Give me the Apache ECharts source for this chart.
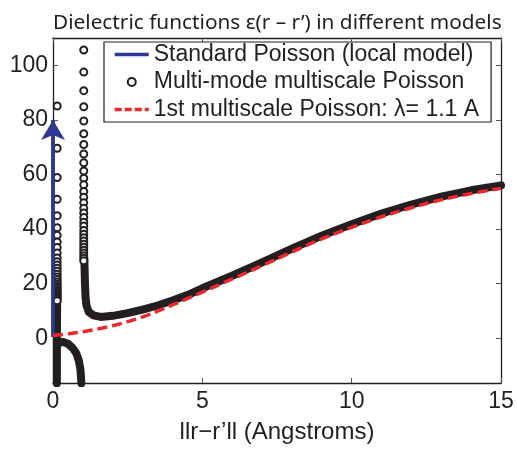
<!DOCTYPE html>
<html><head><meta charset="utf-8">
<script src="https://cdn.jsdelivr.net/npm/echarts@6/dist/echarts.min.js"></script>
<style>html,body{margin:0;padding:0;background:#fff;}#c{width:517px;height:449px;}</style>
</head><body><div id="c"></div>
<script>
// ---- data ----
var titleText = 'Dielectric functions \u03b5(r \u2013 r\u2019) in different models';
var xName = 'llr\u2212r\u2019ll (Angstroms)';
var names = ['Standard Poisson (local model)', 'Multi-mode multiscale Poisson', '1st multiscale Poisson: \u03bb= 1.1 A'];
var xTicks = [0, 5, 10, 15];
var yTicks = [0, 20, 40, 60, 80, 100];
// standard Poisson: vertical arrow at r = 0
var standardPts = [[0, 0.5], [0, 80]];
// multi-mode: individually visible circles (steep parts)
var circleLeftY = [85.1, 69.6, 58.9, 50.9, 44.9, 40.5, 37.7, 35.3, 33.2, 31.2, 29.4, 28.0, 26.8, 25.6, 24.5, 23.4, 22.4, 21.5, 20.6, 19.8, 19.0, 18.2, 17.5, 16.8, 16.1, 15.5, 14.9, 14.3, 13.7];
var circleLeftX = 0.14;
var circleRightY = [105.6, 97.5, 90.7, 84.8, 79.6, 74.9, 71.0, 67.5, 64.3, 61.3, 58.6, 56.2, 53.8, 51.7, 49.6, 47.6, 45.9, 44.2, 42.5, 41.1, 39.5, 38.1, 36.8, 35.6, 34.4, 33.3, 32.2, 31.2, 30.2, 29.3, 28.4];
var circleRightX = 1.03;
// multi-mode: densely sampled parts (circles merge into a thick band)
var denseLeft = [[0.13, -16.5], [0.13, -6], [0.13, 0.5], [0.135, 8], [0.14, 13.5]];
var denseArch = [[0.14, -2.5], [0.2, -1.5], [0.35, -1.4], [0.5, -2.0], [0.65, -3.5], [0.78, -5.5], [0.86, -8], [0.92, -11.5], [0.95, -16.5]];
var denseRight = [[1.05, 29], [1.07, 20], [1.09, 15], [1.12, 12], [1.2, 9.6], [1.35, 8.4], [1.6, 7.8], [2.0, 8.2], [2.5, 9.2], [3.0, 10.5], [3.5, 12.0], [4.0, 13.8], [4.5, 15.8], [5.0, 18.3], [6.0, 22.9], [7.0, 27.8], [8.0, 32.8], [9.0, 37.6], [10.0, 41.8], [11.0, 45.7], [12.0, 49.0], [13.0, 51.9], [14.0, 54.2], [15.0, 56.0]];
// 1st multiscale Poisson
var firstMs = [[0, 1.0], [0.5, 1.6], [1.0, 2.4], [1.5, 3.4], [2.0, 4.6], [2.5, 6.1], [3.0, 7.8], [3.5, 9.9], [4.0, 12.2], [4.5, 14.5], [5.0, 16.9], [6.0, 21.7], [7.0, 26.6], [8.0, 31.6], [9.0, 36.4], [10.0, 40.6], [11.0, 44.5], [12.0, 47.8], [13.0, 50.7], [14.0, 53.0], [15.0, 54.9]];

// ---- build ----
var circles = circleLeftY.map(function (v) { return [circleLeftX, v]; })
  .concat(['-'])
  .concat(circleRightY.map(function (v) { return [circleRightX, v]; }));

var FONT = 'Liberation Sans, Arial, Helvetica, sans-serif';
var BLACK = '#231f20';
var BLUE = '#2b3894';
var RED = '#f0262b';

var chart = echarts.init(document.getElementById('c'), null, {renderer: 'canvas'});
var axisCommonX = {
  type: 'value', min: 0, max: 15,
  axisLine: {show: true, onZero: false, lineStyle: {color: BLACK, width: 1.3}},
  axisTick: {show: true, inside: true, length: 5, lineStyle: {color: '#555', width: 1}, customValues: xTicks},
  splitLine: {show: false}
};
var axisCommonY = {
  type: 'value', min: -16.4, max: 110,
  axisLine: {show: true, onZero: false, lineStyle: {color: BLACK, width: 1.3}},
  axisTick: {show: true, inside: true, length: 5, lineStyle: {color: '#555', width: 1}, customValues: yTicks},
  splitLine: {show: false}
};
var thick = {color: BLACK, width: 8, cap: 'round', join: 'round'};
chart.setOption({
  animation: false,
  backgroundColor: '#fff',
  title: {
    text: titleText, left: 48, top: 8,
    textStyle: {fontFamily: 'Noto Sans', fontWeight: 'normal', fontSize: 20.8, color: BLACK}
  },
  grid: {left: 53, right: 16, top: 38, bottom: 57, containLabel: false},
  legend: {
    orient: 'vertical', left: 104, top: 42,
    padding: [1, 12, 1, 9], itemGap: 4.5, itemWidth: 34, itemHeight: 10,
    borderColor: BLACK, borderWidth: 1.2, backgroundColor: '#fff',
    data: [
      {name: names[0], itemStyle: {opacity: 0}, lineStyle: {width: 3.5, color: BLUE}},
      {name: names[1], lineStyle: {opacity: 0}},
      {name: names[2], itemStyle: {opacity: 0}, lineStyle: {width: 3.5, color: RED, type: [7, 3]}}
    ],
    textStyle: {fontFamily: FONT, fontSize: 23, color: BLACK}
  },
  xAxis: [
    Object.assign({}, axisCommonX, {
      position: 'bottom', name: xName, nameLocation: 'middle', nameGap: 37,
      nameTextStyle: {fontFamily: FONT, fontSize: 24, color: BLACK},
      axisLabel: {show: true, fontFamily: FONT, fontSize: 23, color: BLACK, margin: 7, customValues: xTicks}
    }),
    Object.assign({}, axisCommonX, {position: 'top', axisLabel: {show: false}})
  ],
  yAxis: [
    Object.assign({}, axisCommonY, {
      position: 'left',
      axisLabel: {show: true, fontFamily: FONT, fontSize: 23, color: BLACK, margin: 5, customValues: yTicks}
    }),
    Object.assign({}, axisCommonY, {position: 'right', axisLabel: {show: false}})
  ],
  series: [
    {
      name: names[0], type: 'line', data: standardPts, symbol: 'none',
      lineStyle: {color: BLUE, width: 3.5}, itemStyle: {color: BLUE},
      markLine: {
        silent: true, symbol: ['none', 'arrow'], symbolSize: [18, 20],
        label: {show: false},
        lineStyle: {color: BLUE, width: 3.5, type: 'solid'},
        data: [[{coord: standardPts[0]}, {coord: standardPts[1]}]]
      },
      z: 2
    },
    {name: 'dense1', type: 'line', data: denseLeft, symbol: 'none', lineStyle: thick, z: 3},
    {name: 'dense2', type: 'line', data: denseArch, symbol: 'none', lineStyle: thick, z: 3},
    {name: 'dense3', type: 'line', data: denseRight, symbol: 'none', lineStyle: thick, z: 3},
    {
      name: names[1], type: 'line', data: circles, symbol: 'emptyCircle', symbolSize: 7,
      showSymbol: true, showAllSymbol: true, connectNulls: false,
      lineStyle: {width: 0, opacity: 0, color: BLACK},
      itemStyle: {color: BLACK, borderColor: BLACK, borderWidth: 1.7},
      z: 4
    },
    {
      name: names[2], type: 'line', data: firstMs, symbol: 'none', smooth: true,
      lineStyle: {color: RED, width: 3.5, type: [10, 5]}, itemStyle: {color: RED},
      z: 5
    }
  ]
});
</script>
</body></html>
